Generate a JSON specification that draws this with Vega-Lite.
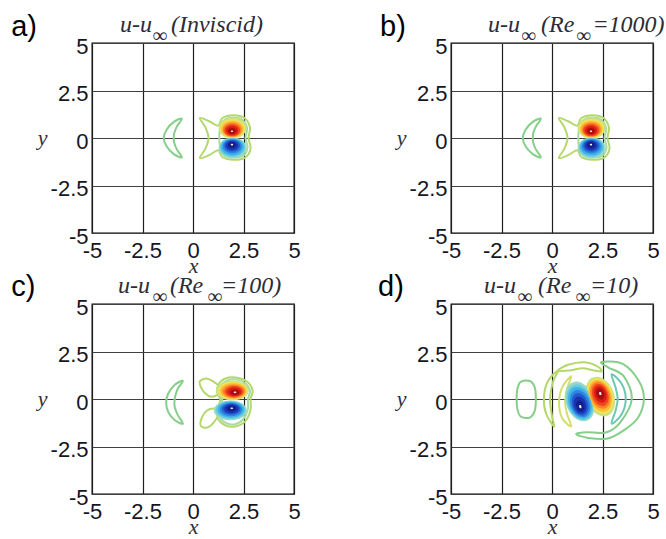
{
"$schema":"https://vega.github.io/schema/vega-lite/v6.json",
"padding":{"left":10,"top":12,"right":5,"bottom":5},
"bounds":"flush",
"columns":2,
"spacing":{"row":71,"column":157},
"resolve":{"scale":{"size":"independent"}},
"datasets":{
"rings":[
{"p":"a","r":"a1","k":0,"c":"g","x":-0.55,"y":1.02},{"p":"a","r":"a1","k":1,"c":"g","x":-0.95,"y":0.85},{"p":"a","r":"a1","k":2,"c":"g","x":-1.3,"y":0.45},{"p":"a","r":"a1","k":3,"c":"g","x":-1.45,"y":0},{"p":"a","r":"a1","k":4,"c":"g","x":-1.3,"y":-0.45},{"p":"a","r":"a1","k":5,"c":"g","x":-0.95,"y":-0.85},{"p":"a","r":"a1","k":6,"c":"g","x":-0.55,"y":-1.02},{"p":"a","r":"a1","k":7,"c":"g","x":-0.8,"y":-0.6},{"p":"a","r":"a1","k":8,"c":"g","x":-0.93,"y":-0.25},{"p":"a","r":"a1","k":9,"c":"g","x":-0.95,"y":0},{"p":"a","r":"a1","k":10,"c":"g","x":-0.93,"y":0.25},{"p":"a","r":"a1","k":11,"c":"g","x":-0.8,"y":0.6},
{"p":"a","r":"a2","k":0,"c":"yg","x":0.34,"y":1.05},{"p":"a","r":"a2","k":1,"c":"yg","x":0.8,"y":0.88},{"p":"a","r":"a2","k":2,"c":"yg","x":1.25,"y":0.65},{"p":"a","r":"a2","k":3,"c":"yg","x":1.45,"y":1.05},{"p":"a","r":"a2","k":4,"c":"yg","x":2.0,"y":1.2},{"p":"a","r":"a2","k":5,"c":"yg","x":2.55,"y":1.05},{"p":"a","r":"a2","k":6,"c":"yg","x":2.82,"y":0.55},{"p":"a","r":"a2","k":7,"c":"yg","x":2.75,"y":0},{"p":"a","r":"a2","k":8,"c":"yg","x":2.85,"y":-0.55},{"p":"a","r":"a2","k":9,"c":"yg","x":2.6,"y":-1.02},{"p":"a","r":"a2","k":10,"c":"yg","x":2.0,"y":-1.15},{"p":"a","r":"a2","k":11,"c":"yg","x":1.45,"y":-1.0},{"p":"a","r":"a2","k":12,"c":"yg","x":1.25,"y":-0.65},{"p":"a","r":"a2","k":13,"c":"yg","x":0.8,"y":-0.9},{"p":"a","r":"a2","k":14,"c":"yg","x":0.34,"y":-1.05},{"p":"a","r":"a2","k":15,"c":"yg","x":0.62,"y":-0.55},{"p":"a","r":"a2","k":16,"c":"yg","x":0.77,"y":0},{"p":"a","r":"a2","k":17,"c":"yg","x":0.62,"y":0.55},
{"p":"a","r":"a3","k":0,"c":"lg","x":1.35,"y":0.55},{"p":"a","r":"a3","k":1,"c":"lg","x":1.55,"y":0.95},{"p":"a","r":"a3","k":2,"c":"lg","x":2.0,"y":1.08},{"p":"a","r":"a3","k":3,"c":"lg","x":2.45,"y":0.95},{"p":"a","r":"a3","k":4,"c":"lg","x":2.68,"y":0.5},{"p":"a","r":"a3","k":5,"c":"lg","x":2.6,"y":0},{"p":"a","r":"a3","k":6,"c":"lg","x":2.7,"y":-0.5},{"p":"a","r":"a3","k":7,"c":"lg","x":2.5,"y":-0.92},{"p":"a","r":"a3","k":8,"c":"lg","x":2.0,"y":-1.03},{"p":"a","r":"a3","k":9,"c":"lg","x":1.55,"y":-0.9},{"p":"a","r":"a3","k":10,"c":"lg","x":1.35,"y":-0.5},{"p":"a","r":"a3","k":11,"c":"lg","x":1.3,"y":0},
{"p":"b","r":"b1","k":0,"c":"g","x":-0.55,"y":1.02},{"p":"b","r":"b1","k":1,"c":"g","x":-0.95,"y":0.85},{"p":"b","r":"b1","k":2,"c":"g","x":-1.3,"y":0.45},{"p":"b","r":"b1","k":3,"c":"g","x":-1.45,"y":0},{"p":"b","r":"b1","k":4,"c":"g","x":-1.3,"y":-0.45},{"p":"b","r":"b1","k":5,"c":"g","x":-0.95,"y":-0.85},{"p":"b","r":"b1","k":6,"c":"g","x":-0.55,"y":-1.02},{"p":"b","r":"b1","k":7,"c":"g","x":-0.8,"y":-0.6},{"p":"b","r":"b1","k":8,"c":"g","x":-0.93,"y":-0.25},{"p":"b","r":"b1","k":9,"c":"g","x":-0.95,"y":0},{"p":"b","r":"b1","k":10,"c":"g","x":-0.93,"y":0.25},{"p":"b","r":"b1","k":11,"c":"g","x":-0.8,"y":0.6},
{"p":"b","r":"b2","k":0,"c":"yg","x":0.34,"y":1.05},{"p":"b","r":"b2","k":1,"c":"yg","x":0.8,"y":0.88},{"p":"b","r":"b2","k":2,"c":"yg","x":1.25,"y":0.65},{"p":"b","r":"b2","k":3,"c":"yg","x":1.45,"y":1.05},{"p":"b","r":"b2","k":4,"c":"yg","x":2.0,"y":1.2},{"p":"b","r":"b2","k":5,"c":"yg","x":2.55,"y":1.05},{"p":"b","r":"b2","k":6,"c":"yg","x":2.82,"y":0.55},{"p":"b","r":"b2","k":7,"c":"yg","x":2.75,"y":0},{"p":"b","r":"b2","k":8,"c":"yg","x":2.85,"y":-0.55},{"p":"b","r":"b2","k":9,"c":"yg","x":2.6,"y":-1.02},{"p":"b","r":"b2","k":10,"c":"yg","x":2.0,"y":-1.15},{"p":"b","r":"b2","k":11,"c":"yg","x":1.45,"y":-1.0},{"p":"b","r":"b2","k":12,"c":"yg","x":1.25,"y":-0.65},{"p":"b","r":"b2","k":13,"c":"yg","x":0.8,"y":-0.9},{"p":"b","r":"b2","k":14,"c":"yg","x":0.34,"y":-1.05},{"p":"b","r":"b2","k":15,"c":"yg","x":0.62,"y":-0.55},{"p":"b","r":"b2","k":16,"c":"yg","x":0.77,"y":0},{"p":"b","r":"b2","k":17,"c":"yg","x":0.62,"y":0.55},
{"p":"b","r":"b3","k":0,"c":"lg","x":1.35,"y":0.55},{"p":"b","r":"b3","k":1,"c":"lg","x":1.55,"y":0.95},{"p":"b","r":"b3","k":2,"c":"lg","x":2.0,"y":1.08},{"p":"b","r":"b3","k":3,"c":"lg","x":2.45,"y":0.95},{"p":"b","r":"b3","k":4,"c":"lg","x":2.68,"y":0.5},{"p":"b","r":"b3","k":5,"c":"lg","x":2.6,"y":0},{"p":"b","r":"b3","k":6,"c":"lg","x":2.7,"y":-0.5},{"p":"b","r":"b3","k":7,"c":"lg","x":2.5,"y":-0.92},{"p":"b","r":"b3","k":8,"c":"lg","x":2.0,"y":-1.03},{"p":"b","r":"b3","k":9,"c":"lg","x":1.55,"y":-0.9},{"p":"b","r":"b3","k":10,"c":"lg","x":1.35,"y":-0.5},{"p":"b","r":"b3","k":11,"c":"lg","x":1.3,"y":0},
{"p":"c","r":"c1","k":0,"c":"g","x":-0.5,"y":0.96},{"p":"c","r":"c1","k":1,"c":"g","x":-0.9,"y":0.75},{"p":"c","r":"c1","k":2,"c":"g","x":-1.22,"y":0.3},{"p":"c","r":"c1","k":3,"c":"g","x":-1.33,"y":-0.18},{"p":"c","r":"c1","k":4,"c":"g","x":-1.22,"y":-0.7},{"p":"c","r":"c1","k":5,"c":"g","x":-0.9,"y":-1.12},{"p":"c","r":"c1","k":6,"c":"g","x":-0.5,"y":-1.3},{"p":"c","r":"c1","k":7,"c":"g","x":-0.75,"y":-0.85},{"p":"c","r":"c1","k":8,"c":"g","x":-0.9,"y":-0.45},{"p":"c","r":"c1","k":9,"c":"g","x":-0.92,"y":-0.18},{"p":"c","r":"c1","k":10,"c":"g","x":-0.88,"y":0.15},{"p":"c","r":"c1","k":11,"c":"g","x":-0.75,"y":0.55},
{"p":"c","r":"c2","k":0,"c":"yg","x":0.35,"y":0.95},{"p":"c","r":"c2","k":1,"c":"yg","x":0.7,"y":1.07},{"p":"c","r":"c2","k":2,"c":"yg","x":1.1,"y":0.85},{"p":"c","r":"c2","k":3,"c":"yg","x":1.45,"y":0.5},{"p":"c","r":"c2","k":4,"c":"yg","x":1.2,"y":0.22},{"p":"c","r":"c2","k":5,"c":"yg","x":0.9,"y":0.12},{"p":"c","r":"c2","k":6,"c":"yg","x":0.6,"y":0.3},{"p":"c","r":"c2","k":7,"c":"yg","x":0.38,"y":0.65},
{"p":"c","r":"c3","k":0,"c":"yg","x":0.38,"y":-1.4},{"p":"c","r":"c3","k":1,"c":"yg","x":0.7,"y":-1.5},{"p":"c","r":"c3","k":2,"c":"yg","x":1.05,"y":-1.2},{"p":"c","r":"c3","k":3,"c":"yg","x":1.35,"y":-0.65},{"p":"c","r":"c3","k":4,"c":"yg","x":1.05,"y":-0.5},{"p":"c","r":"c3","k":5,"c":"yg","x":0.7,"y":-0.6},{"p":"c","r":"c3","k":6,"c":"yg","x":0.45,"y":-0.95},
{"p":"c","r":"c4","k":0,"c":"yg","x":1.25,"y":0.75},{"p":"c","r":"c4","k":1,"c":"yg","x":1.6,"y":1.08},{"p":"c","r":"c4","k":2,"c":"yg","x":2.2,"y":1.12},{"p":"c","r":"c4","k":3,"c":"yg","x":2.7,"y":0.9},{"p":"c","r":"c4","k":4,"c":"yg","x":2.95,"y":0.45},{"p":"c","r":"c4","k":5,"c":"yg","x":2.85,"y":0.0},{"p":"c","r":"c4","k":6,"c":"yg","x":2.85,"y":-0.55},{"p":"c","r":"c4","k":7,"c":"yg","x":2.6,"y":-1.15},{"p":"c","r":"c4","k":8,"c":"yg","x":2.1,"y":-1.45},{"p":"c","r":"c4","k":9,"c":"yg","x":1.6,"y":-1.38},{"p":"c","r":"c4","k":10,"c":"yg","x":1.25,"y":-1.05},{"p":"c","r":"c4","k":11,"c":"yg","x":1.2,"y":-0.55},{"p":"c","r":"c4","k":12,"c":"yg","x":1.35,"y":-0.05},{"p":"c","r":"c4","k":13,"c":"yg","x":1.2,"y":0.35},
{"p":"c","r":"c5","k":0,"c":"lg","x":1.38,"y":0.7},{"p":"c","r":"c5","k":1,"c":"lg","x":1.7,"y":0.98},{"p":"c","r":"c5","k":2,"c":"lg","x":2.2,"y":1.02},{"p":"c","r":"c5","k":3,"c":"lg","x":2.6,"y":0.82},{"p":"c","r":"c5","k":4,"c":"lg","x":2.82,"y":0.42},{"p":"c","r":"c5","k":5,"c":"lg","x":2.72,"y":0.0},{"p":"c","r":"c5","k":6,"c":"lg","x":2.72,"y":-0.52},{"p":"c","r":"c5","k":7,"c":"lg","x":2.5,"y":-1.05},{"p":"c","r":"c5","k":8,"c":"lg","x":2.1,"y":-1.33},{"p":"c","r":"c5","k":9,"c":"lg","x":1.65,"y":-1.27},{"p":"c","r":"c5","k":10,"c":"lg","x":1.35,"y":-0.98},{"p":"c","r":"c5","k":11,"c":"lg","x":1.32,"y":-0.5},{"p":"c","r":"c5","k":12,"c":"lg","x":1.45,"y":-0.05},{"p":"c","r":"c5","k":13,"c":"lg","x":1.32,"y":0.35},
{"p":"d","r":"d1","k":0,"c":"g","x":-1.55,"y":0.9},{"p":"d","r":"d1","k":1,"c":"g","x":-1.1,"y":0.95},{"p":"d","r":"d1","k":2,"c":"g","x":-0.85,"y":0.6},{"p":"d","r":"d1","k":3,"c":"g","x":-0.8,"y":0},{"p":"d","r":"d1","k":4,"c":"g","x":-0.85,"y":-0.6},{"p":"d","r":"d1","k":5,"c":"g","x":-1.1,"y":-0.98},{"p":"d","r":"d1","k":6,"c":"g","x":-1.55,"y":-0.92},{"p":"d","r":"d1","k":7,"c":"g","x":-1.72,"y":-0.5},{"p":"d","r":"d1","k":8,"c":"g","x":-1.75,"y":0},{"p":"d","r":"d1","k":9,"c":"g","x":-1.72,"y":0.5},
{"p":"d","r":"d2","k":0,"c":"yg","x":0.3,"y":1.5},{"p":"d","r":"d2","k":1,"c":"yg","x":-0.2,"y":0.95},{"p":"d","r":"d2","k":2,"c":"yg","x":-0.4,"y":0.1},{"p":"d","r":"d2","k":3,"c":"yg","x":-0.3,"y":-0.75},{"p":"d","r":"d2","k":4,"c":"yg","x":0.1,"y":-1.45},{"p":"d","r":"d2","k":5,"c":"yg","x":0.0,"y":-0.9},{"p":"d","r":"d2","k":6,"c":"yg","x":-0.1,"y":0},{"p":"d","r":"d2","k":7,"c":"yg","x":0.05,"y":0.9},
{"p":"d","r":"d3","k":0,"c":"yg","x":0.3,"y":1.5},{"p":"d","r":"d3","k":1,"c":"yg","x":0.8,"y":1.8},{"p":"d","r":"d3","k":2,"c":"yg","x":1.6,"y":1.93},{"p":"d","r":"d3","k":3,"c":"yg","x":2.25,"y":1.72},{"p":"d","r":"d3","k":4,"c":"yg","x":2.45,"y":1.45},{"p":"d","r":"d3","k":5,"c":"yg","x":2.1,"y":1.5},{"p":"d","r":"d3","k":6,"c":"yg","x":1.5,"y":1.62},{"p":"d","r":"d3","k":7,"c":"yg","x":0.85,"y":1.5},
{"p":"d","r":"d4","k":0,"c":"g","x":2.45,"y":1.95},{"p":"d","r":"d4","k":1,"c":"g","x":3.5,"y":1.85},{"p":"d","r":"d4","k":2,"c":"g","x":4.3,"y":0.95},{"p":"d","r":"d4","k":3,"c":"g","x":4.55,"y":0},{"p":"d","r":"d4","k":4,"c":"g","x":4.25,"y":-1.0},{"p":"d","r":"d4","k":5,"c":"g","x":3.55,"y":-1.65},{"p":"d","r":"d4","k":6,"c":"g","x":2.75,"y":-2.08},{"p":"d","r":"d4","k":7,"c":"g","x":1.8,"y":-2.05},{"p":"d","r":"d4","k":8,"c":"g","x":1.2,"y":-1.85},{"p":"d","r":"d4","k":9,"c":"g","x":1.7,"y":-1.75},{"p":"d","r":"d4","k":10,"c":"g","x":2.7,"y":-1.75},{"p":"d","r":"d4","k":11,"c":"g","x":3.4,"y":-1.2},{"p":"d","r":"d4","k":12,"c":"g","x":3.95,"y":0},{"p":"d","r":"d4","k":13,"c":"g","x":3.55,"y":1.2},{"p":"d","r":"d4","k":14,"c":"g","x":2.8,"y":1.65},
{"p":"d","r":"d5","k":0,"c":"tl","x":2.95,"y":1.3},{"p":"d","r":"d5","k":1,"c":"tl","x":3.45,"y":0.8},{"p":"d","r":"d5","k":2,"c":"tl","x":3.65,"y":0},{"p":"d","r":"d5","k":3,"c":"tl","x":3.45,"y":-0.8},{"p":"d","r":"d5","k":4,"c":"tl","x":2.95,"y":-1.3},{"p":"d","r":"d5","k":5,"c":"tl","x":3.15,"y":-0.6},{"p":"d","r":"d5","k":6,"c":"tl","x":3.25,"y":0},{"p":"d","r":"d5","k":7,"c":"tl","x":3.15,"y":0.6},
{"p":"d","r":"d6","k":0,"c":"y2","x":0.95,"y":1.2},{"p":"d","r":"d6","k":1,"c":"y2","x":0.5,"y":0.6},{"p":"d","r":"d6","k":2,"c":"y2","x":0.35,"y":-0.2},{"p":"d","r":"d6","k":3,"c":"y2","x":0.5,"y":-1.0},{"p":"d","r":"d6","k":4,"c":"y2","x":0.95,"y":-1.45},{"p":"d","r":"d6","k":5,"c":"y2","x":0.75,"y":-0.8},{"p":"d","r":"d6","k":6,"c":"y2","x":0.65,"y":-0.2},{"p":"d","r":"d6","k":7,"c":"y2","x":0.75,"y":0.55}
],
"lobes":[
{"p":"a","c":"r1","lv":1,"x":1.96,"y":0.52},{"p":"a","c":"r2","lv":2,"x":1.955,"y":0.5},{"p":"a","c":"r3","lv":3,"x":1.95,"y":0.47},{"p":"a","c":"r4","lv":4,"x":1.945,"y":0.44},{"p":"a","c":"r5","lv":5,"x":1.94,"y":0.41},{"p":"a","c":"r6","lv":6,"x":1.935,"y":0.39},{"p":"a","c":"r7","lv":7,"x":1.93,"y":0.37},{"p":"a","c":"r8","lv":8,"x":1.93,"y":0.35},
{"p":"a","c":"b1","lv":1,"x":1.96,"y":-0.52},{"p":"a","c":"b2","lv":2,"x":1.955,"y":-0.5},{"p":"a","c":"b3","lv":3,"x":1.95,"y":-0.47},{"p":"a","c":"b4","lv":4,"x":1.945,"y":-0.44},{"p":"a","c":"b5","lv":5,"x":1.94,"y":-0.41},{"p":"a","c":"b6","lv":6,"x":1.935,"y":-0.39},{"p":"a","c":"b7","lv":7,"x":1.93,"y":-0.37},{"p":"a","c":"b8","lv":8,"x":1.93,"y":-0.35},
{"p":"b","c":"r1","lv":1,"x":1.96,"y":0.52},{"p":"b","c":"r2","lv":2,"x":1.955,"y":0.5},{"p":"b","c":"r3","lv":3,"x":1.95,"y":0.47},{"p":"b","c":"r4","lv":4,"x":1.945,"y":0.44},{"p":"b","c":"r5","lv":5,"x":1.94,"y":0.41},{"p":"b","c":"r6","lv":6,"x":1.935,"y":0.39},{"p":"b","c":"r7","lv":7,"x":1.93,"y":0.37},{"p":"b","c":"r8","lv":8,"x":1.93,"y":0.35},
{"p":"b","c":"b1","lv":1,"x":1.96,"y":-0.52},{"p":"b","c":"b2","lv":2,"x":1.955,"y":-0.5},{"p":"b","c":"b3","lv":3,"x":1.95,"y":-0.47},{"p":"b","c":"b4","lv":4,"x":1.945,"y":-0.44},{"p":"b","c":"b5","lv":5,"x":1.94,"y":-0.41},{"p":"b","c":"b6","lv":6,"x":1.935,"y":-0.39},{"p":"b","c":"b7","lv":7,"x":1.93,"y":-0.37},{"p":"b","c":"b8","lv":8,"x":1.93,"y":-0.35},
{"p":"c","c":"r1","lv":1,"x":1.95,"y":0.45},{"p":"c","c":"r2","lv":2,"x":1.97,"y":0.44},{"p":"c","c":"r3","lv":3,"x":1.99,"y":0.42},{"p":"c","c":"r4","lv":4,"x":2.01,"y":0.41},{"p":"c","c":"r5","lv":5,"x":2.03,"y":0.39},{"p":"c","c":"r6","lv":6,"x":2.05,"y":0.38},{"p":"c","c":"r7","lv":7,"x":2.07,"y":0.36},{"p":"c","c":"r8","lv":8,"x":2.08,"y":0.35},
{"p":"c","c":"b1","lv":1,"x":1.85,"y":-0.6},{"p":"c","c":"b2","lv":2,"x":1.86,"y":-0.58},{"p":"c","c":"b3","lv":3,"x":1.87,"y":-0.56},{"p":"c","c":"b4","lv":4,"x":1.88,"y":-0.55},{"p":"c","c":"b5","lv":5,"x":1.89,"y":-0.53},{"p":"c","c":"b6","lv":6,"x":1.9,"y":-0.52},{"p":"c","c":"b7","lv":7,"x":1.91,"y":-0.5},{"p":"c","c":"b8","lv":8,"x":1.92,"y":-0.49},
{"p":"d","c":"r1","lv":1,"x":2.39,"y":0.13},{"p":"d","c":"r2","lv":2,"x":2.39,"y":0.15},{"p":"d","c":"r3","lv":3,"x":2.39,"y":0.17},{"p":"d","c":"r4","lv":4,"x":2.39,"y":0.2},{"p":"d","c":"r5","lv":5,"x":2.39,"y":0.22},{"p":"d","c":"r6","lv":6,"x":2.39,"y":0.25},{"p":"d","c":"r7","lv":7,"x":2.39,"y":0.27},{"p":"d","c":"r8","lv":8,"x":2.39,"y":0.29},
{"p":"d","c":"b1","lv":1,"x":1.38,"y":-0.13},{"p":"d","c":"b2","lv":2,"x":1.38,"y":-0.17},{"p":"d","c":"b3","lv":3,"x":1.38,"y":-0.2},{"p":"d","c":"b4","lv":4,"x":1.39,"y":-0.24},{"p":"d","c":"b5","lv":5,"x":1.39,"y":-0.28},{"p":"d","c":"b6","lv":6,"x":1.39,"y":-0.32},{"p":"d","c":"b7","lv":7,"x":1.4,"y":-0.36},{"p":"d","c":"b8","lv":8,"x":1.4,"y":-0.4}
]
},
"concat":[
{"width":202,"height":190,"layer":[
{"data":{"name":"rings"},"transform":[{"filter":"datum.p=='a'"}],"mark":{"type":"line","interpolate":"cardinal-closed","strokeWidth":2},"encoding":{"x":{"field":"x","type":"quantitative","scale":{"domain":[-5,5],"nice":false,"zero":false},"axis":{"values":[-5,-2.5,0,2.5,5]},"title":"x"},"y":{"field":"y","type":"quantitative","scale":{"domain":[-5,5],"nice":false,"zero":false},"axis":{"values":[-5,-2.5,0,2.5,5]},"title":"y"},"detail":{"field":"r"},"order":{"field":"k"},"color":{"field":"c","type":"nominal","legend":null,"scale":{"domain":["g","yg","lg","tl","y2","r1","r2","r3","r4","r5","r6","r7","r8","b1","b2","b3","b4","b5","b6","b7","b8"],"range":["#86cf8a","#b4d86c","#a6dca4","#6cc9b0","#d2de6e","#c6e284","#f2e25a","#fdbb36","#fa8426","#f2451c","#d91c18","#a80c0e","#ffffff","#9cd9c4","#66cde0","#3fb0e8","#2c86e0","#2358cf","#1b32b0","#11208a","#ffffff"]}}}},
{"data":{"name":"lobes"},"transform":[{"filter":"datum.p=='a'"}],"mark":{"type":"point","filled":true,"opacity":1,"strokeWidth":0,"shape":"M-1,0A1,0.75,0,1,1,1,0A1,0.75,0,1,1,-1,0Z"},"encoding":{"x":{"field":"x","type":"quantitative","scale":{"domain":[-5,5],"nice":false,"zero":false},"title":"x"},"y":{"field":"y","type":"quantitative","scale":{"domain":[-5,5],"nice":false,"zero":false},"title":"y"},"order":{"field":"lv"},"size":{"field":"lv","type":"quantitative","legend":null,"scale":{"type":"threshold","domain":[1.5,2.5,3.5,4.5,5.5,6.5,7.5],"range":[784,635,502,361,246,144,61,5]}},"color":{"field":"c","type":"nominal","legend":null,"scale":{"domain":["g","yg","lg","tl","y2","r1","r2","r3","r4","r5","r6","r7","r8","b1","b2","b3","b4","b5","b6","b7","b8"],"range":["#86cf8a","#b4d86c","#a6dca4","#6cc9b0","#d2de6e","#c6e284","#f2e25a","#fdbb36","#fa8426","#f2451c","#d91c18","#a80c0e","#ffffff","#9cd9c4","#66cde0","#3fb0e8","#2c86e0","#2358cf","#1b32b0","#11208a","#ffffff"]}}}},
{"data":{"values":[{}]},"mark":{"type":"text","text":"a)","font":"Liberation Sans","fontSize":29,"align":"left","baseline":"alphabetic","color":"#000"},"encoding":{"x":{"datum":-9.0,"type":"quantitative","scale":{"domain":[-5,5],"nice":false,"zero":false},"title":"x"},"y":{"datum":5.37,"type":"quantitative","scale":{"domain":[-5,5],"nice":false,"zero":false},"title":"y"}}},
{"data":{"values":[{}]},"mark":{"type":"text","text":"u-u","font":"Liberation Serif","fontStyle":"italic","fontSize":24,"align":"left","baseline":"alphabetic","color":"#2c2c38"},"encoding":{"x":{"datum":-3.61,"type":"quantitative","scale":{"domain":[-5,5],"nice":false,"zero":false},"title":"x"},"y":{"datum":5.58,"type":"quantitative","scale":{"domain":[-5,5],"nice":false,"zero":false},"title":"y"}}},
{"data":{"values":[{}]},"mark":{"type":"text","text":"∞","font":"Liberation Serif","fontStyle":"italic","fontSize":20,"align":"left","baseline":"alphabetic","color":"#2c2c38"},"encoding":{"x":{"datum":-1.98,"type":"quantitative","scale":{"domain":[-5,5],"nice":false,"zero":false},"title":"x"},"y":{"datum":5.05,"type":"quantitative","scale":{"domain":[-5,5],"nice":false,"zero":false},"title":"y"}}},
{"data":{"values":[{}]},"mark":{"type":"text","text":"(Inviscid)","font":"Liberation Serif","fontStyle":"italic","fontSize":24,"align":"left","baseline":"alphabetic","color":"#2c2c38"},"encoding":{"x":{"datum":-1.09,"type":"quantitative","scale":{"domain":[-5,5],"nice":false,"zero":false},"title":"x"},"y":{"datum":5.58,"type":"quantitative","scale":{"domain":[-5,5],"nice":false,"zero":false},"title":"y"}}}
]},
{"width":202,"height":190,"layer":[
{"data":{"name":"rings"},"transform":[{"filter":"datum.p=='b'"}],"mark":{"type":"line","interpolate":"cardinal-closed","strokeWidth":2},"encoding":{"x":{"field":"x","type":"quantitative","scale":{"domain":[-5,5],"nice":false,"zero":false},"axis":{"values":[-5,-2.5,0,2.5,5]},"title":"x"},"y":{"field":"y","type":"quantitative","scale":{"domain":[-5,5],"nice":false,"zero":false},"axis":{"values":[-5,-2.5,0,2.5,5]},"title":"y"},"detail":{"field":"r"},"order":{"field":"k"},"color":{"field":"c","type":"nominal","legend":null,"scale":{"domain":["g","yg","lg","tl","y2","r1","r2","r3","r4","r5","r6","r7","r8","b1","b2","b3","b4","b5","b6","b7","b8"],"range":["#86cf8a","#b4d86c","#a6dca4","#6cc9b0","#d2de6e","#c6e284","#f2e25a","#fdbb36","#fa8426","#f2451c","#d91c18","#a80c0e","#ffffff","#9cd9c4","#66cde0","#3fb0e8","#2c86e0","#2358cf","#1b32b0","#11208a","#ffffff"]}}}},
{"data":{"name":"lobes"},"transform":[{"filter":"datum.p=='b'"}],"mark":{"type":"point","filled":true,"opacity":1,"strokeWidth":0,"shape":"M-1,0A1,0.75,0,1,1,1,0A1,0.75,0,1,1,-1,0Z"},"encoding":{"x":{"field":"x","type":"quantitative","scale":{"domain":[-5,5],"nice":false,"zero":false},"title":"x"},"y":{"field":"y","type":"quantitative","scale":{"domain":[-5,5],"nice":false,"zero":false},"title":"y"},"order":{"field":"lv"},"size":{"field":"lv","type":"quantitative","legend":null,"scale":{"type":"threshold","domain":[1.5,2.5,3.5,4.5,5.5,6.5,7.5],"range":[784,635,502,361,246,144,61,5]}},"color":{"field":"c","type":"nominal","legend":null,"scale":{"domain":["g","yg","lg","tl","y2","r1","r2","r3","r4","r5","r6","r7","r8","b1","b2","b3","b4","b5","b6","b7","b8"],"range":["#86cf8a","#b4d86c","#a6dca4","#6cc9b0","#d2de6e","#c6e284","#f2e25a","#fdbb36","#fa8426","#f2451c","#d91c18","#a80c0e","#ffffff","#9cd9c4","#66cde0","#3fb0e8","#2c86e0","#2358cf","#1b32b0","#11208a","#ffffff"]}}}},
{"data":{"values":[{}]},"mark":{"type":"text","text":"b)","font":"Liberation Sans","fontSize":29,"align":"left","baseline":"alphabetic","color":"#000"},"encoding":{"x":{"datum":-8.51,"type":"quantitative","scale":{"domain":[-5,5],"nice":false,"zero":false},"title":"x"},"y":{"datum":5.37,"type":"quantitative","scale":{"domain":[-5,5],"nice":false,"zero":false},"title":"y"}}},
{"data":{"values":[{}]},"mark":{"type":"text","text":"u-u","font":"Liberation Serif","fontStyle":"italic","fontSize":24,"align":"left","baseline":"alphabetic","color":"#2c2c38"},"encoding":{"x":{"datum":-3.17,"type":"quantitative","scale":{"domain":[-5,5],"nice":false,"zero":false},"title":"x"},"y":{"datum":5.58,"type":"quantitative","scale":{"domain":[-5,5],"nice":false,"zero":false},"title":"y"}}},
{"data":{"values":[{}]},"mark":{"type":"text","text":"∞","font":"Liberation Serif","fontStyle":"italic","fontSize":20,"align":"left","baseline":"alphabetic","color":"#2c2c38"},"encoding":{"x":{"datum":-1.5,"type":"quantitative","scale":{"domain":[-5,5],"nice":false,"zero":false},"title":"x"},"y":{"datum":5.05,"type":"quantitative","scale":{"domain":[-5,5],"nice":false,"zero":false},"title":"y"}}},
{"data":{"values":[{}]},"mark":{"type":"text","text":"(Re","font":"Liberation Serif","fontStyle":"italic","fontSize":24,"align":"left","baseline":"alphabetic","color":"#2c2c38"},"encoding":{"x":{"datum":-0.54,"type":"quantitative","scale":{"domain":[-5,5],"nice":false,"zero":false},"title":"x"},"y":{"datum":5.58,"type":"quantitative","scale":{"domain":[-5,5],"nice":false,"zero":false},"title":"y"}}},
{"data":{"values":[{}]},"mark":{"type":"text","text":"∞","font":"Liberation Serif","fontStyle":"italic","fontSize":20,"align":"left","baseline":"alphabetic","color":"#2c2c38"},"encoding":{"x":{"datum":1.22,"type":"quantitative","scale":{"domain":[-5,5],"nice":false,"zero":false},"title":"x"},"y":{"datum":5.05,"type":"quantitative","scale":{"domain":[-5,5],"nice":false,"zero":false},"title":"y"}}},
{"data":{"values":[{}]},"mark":{"type":"text","text":"=1000)","font":"Liberation Serif","fontStyle":"italic","fontSize":24,"align":"left","baseline":"alphabetic","color":"#2c2c38"},"encoding":{"x":{"datum":2.0,"type":"quantitative","scale":{"domain":[-5,5],"nice":false,"zero":false},"title":"x"},"y":{"datum":5.58,"type":"quantitative","scale":{"domain":[-5,5],"nice":false,"zero":false},"title":"y"}}}
]},
{"width":202,"height":190,"layer":[
{"data":{"name":"rings"},"transform":[{"filter":"datum.p=='c'"}],"mark":{"type":"line","interpolate":"cardinal-closed","strokeWidth":2},"encoding":{"x":{"field":"x","type":"quantitative","scale":{"domain":[-5,5],"nice":false,"zero":false},"axis":{"values":[-5,-2.5,0,2.5,5]},"title":"x"},"y":{"field":"y","type":"quantitative","scale":{"domain":[-5,5],"nice":false,"zero":false},"axis":{"values":[-5,-2.5,0,2.5,5]},"title":"y"},"detail":{"field":"r"},"order":{"field":"k"},"color":{"field":"c","type":"nominal","legend":null,"scale":{"domain":["g","yg","lg","tl","y2","r1","r2","r3","r4","r5","r6","r7","r8","b1","b2","b3","b4","b5","b6","b7","b8"],"range":["#86cf8a","#b4d86c","#a6dca4","#6cc9b0","#d2de6e","#c6e284","#f2e25a","#fdbb36","#fa8426","#f2451c","#d91c18","#a80c0e","#ffffff","#9cd9c4","#66cde0","#3fb0e8","#2c86e0","#2358cf","#1b32b0","#11208a","#ffffff"]}}}},
{"data":{"name":"lobes"},"transform":[{"filter":"datum.p=='c'"}],"mark":{"type":"point","filled":true,"opacity":1,"strokeWidth":0,"shape":"M-1,0A1,0.6,0,1,1,1,0A1,0.6,0,1,1,-1,0Z"},"encoding":{"x":{"field":"x","type":"quantitative","scale":{"domain":[-5,5],"nice":false,"zero":false},"title":"x"},"y":{"field":"y","type":"quantitative","scale":{"domain":[-5,5],"nice":false,"zero":false},"title":"y"},"order":{"field":"lv"},"size":{"field":"lv","type":"quantitative","legend":null,"scale":{"type":"threshold","domain":[1.5,2.5,3.5,4.5,5.5,6.5,7.5],"range":[1089,882,697,502,342,202,85,7]}},"color":{"field":"c","type":"nominal","legend":null,"scale":{"domain":["g","yg","lg","tl","y2","r1","r2","r3","r4","r5","r6","r7","r8","b1","b2","b3","b4","b5","b6","b7","b8"],"range":["#86cf8a","#b4d86c","#a6dca4","#6cc9b0","#d2de6e","#c6e284","#f2e25a","#fdbb36","#fa8426","#f2451c","#d91c18","#a80c0e","#ffffff","#9cd9c4","#66cde0","#3fb0e8","#2c86e0","#2358cf","#1b32b0","#11208a","#ffffff"]}}}},
{"data":{"values":[{}]},"mark":{"type":"text","text":"c)","font":"Liberation Sans","fontSize":29,"align":"left","baseline":"alphabetic","color":"#000"},"encoding":{"x":{"datum":-9.0,"type":"quantitative","scale":{"domain":[-5,5],"nice":false,"zero":false},"title":"x"},"y":{"datum":5.42,"type":"quantitative","scale":{"domain":[-5,5],"nice":false,"zero":false},"title":"y"}}},
{"data":{"values":[{}]},"mark":{"type":"text","text":"u-u","font":"Liberation Serif","fontStyle":"italic","fontSize":24,"align":"left","baseline":"alphabetic","color":"#2c2c38"},"encoding":{"x":{"datum":-3.71,"type":"quantitative","scale":{"domain":[-5,5],"nice":false,"zero":false},"title":"x"},"y":{"datum":5.58,"type":"quantitative","scale":{"domain":[-5,5],"nice":false,"zero":false},"title":"y"}}},
{"data":{"values":[{}]},"mark":{"type":"text","text":"∞","font":"Liberation Serif","fontStyle":"italic","fontSize":20,"align":"left","baseline":"alphabetic","color":"#2c2c38"},"encoding":{"x":{"datum":-1.98,"type":"quantitative","scale":{"domain":[-5,5],"nice":false,"zero":false},"title":"x"},"y":{"datum":5.05,"type":"quantitative","scale":{"domain":[-5,5],"nice":false,"zero":false},"title":"y"}}},
{"data":{"values":[{}]},"mark":{"type":"text","text":"(Re","font":"Liberation Serif","fontStyle":"italic","fontSize":24,"align":"left","baseline":"alphabetic","color":"#2c2c38"},"encoding":{"x":{"datum":-1.14,"type":"quantitative","scale":{"domain":[-5,5],"nice":false,"zero":false},"title":"x"},"y":{"datum":5.58,"type":"quantitative","scale":{"domain":[-5,5],"nice":false,"zero":false},"title":"y"}}},
{"data":{"values":[{}]},"mark":{"type":"text","text":"∞","font":"Liberation Serif","fontStyle":"italic","fontSize":20,"align":"left","baseline":"alphabetic","color":"#2c2c38"},"encoding":{"x":{"datum":0.74,"type":"quantitative","scale":{"domain":[-5,5],"nice":false,"zero":false},"title":"x"},"y":{"datum":5.05,"type":"quantitative","scale":{"domain":[-5,5],"nice":false,"zero":false},"title":"y"}}},
{"data":{"values":[{}]},"mark":{"type":"text","text":"=100)","font":"Liberation Serif","fontStyle":"italic","fontSize":24,"align":"left","baseline":"alphabetic","color":"#2c2c38"},"encoding":{"x":{"datum":1.39,"type":"quantitative","scale":{"domain":[-5,5],"nice":false,"zero":false},"title":"x"},"y":{"datum":5.58,"type":"quantitative","scale":{"domain":[-5,5],"nice":false,"zero":false},"title":"y"}}}
]},
{"width":202,"height":190,"layer":[
{"data":{"name":"rings"},"transform":[{"filter":"datum.p=='d'"}],"mark":{"type":"line","interpolate":"cardinal-closed","strokeWidth":2},"encoding":{"x":{"field":"x","type":"quantitative","scale":{"domain":[-5,5],"nice":false,"zero":false},"axis":{"values":[-5,-2.5,0,2.5,5]},"title":"x"},"y":{"field":"y","type":"quantitative","scale":{"domain":[-5,5],"nice":false,"zero":false},"axis":{"values":[-5,-2.5,0,2.5,5]},"title":"y"},"detail":{"field":"r"},"order":{"field":"k"},"color":{"field":"c","type":"nominal","legend":null,"scale":{"domain":["g","yg","lg","tl","y2","r1","r2","r3","r4","r5","r6","r7","r8","b1","b2","b3","b4","b5","b6","b7","b8"],"range":["#86cf8a","#b4d86c","#a6dca4","#6cc9b0","#d2de6e","#c6e284","#f2e25a","#fdbb36","#fa8426","#f2451c","#d91c18","#a80c0e","#ffffff","#9cd9c4","#66cde0","#3fb0e8","#2c86e0","#2358cf","#1b32b0","#11208a","#ffffff"]}}}},
{"data":{"name":"lobes"},"transform":[{"filter":"datum.p=='d'"}],"mark":{"type":"point","filled":true,"opacity":1,"strokeWidth":0,"shape":"M-0.342,-0.94A1,0.68,70,1,1,0.342,0.94A1,0.68,70,1,1,-0.342,-0.94Z"},"encoding":{"x":{"field":"x","type":"quantitative","scale":{"domain":[-5,5],"nice":false,"zero":false},"title":"x"},"y":{"field":"y","type":"quantitative","scale":{"domain":[-5,5],"nice":false,"zero":false},"title":"y"},"order":{"field":"lv"},"size":{"field":"lv","type":"quantitative","legend":null,"scale":{"type":"threshold","domain":[1.5,2.5,3.5,4.5,5.5,6.5,7.5],"range":[1681,1362,1076,778,529,310,132,11]}},"color":{"field":"c","type":"nominal","legend":null,"scale":{"domain":["g","yg","lg","tl","y2","r1","r2","r3","r4","r5","r6","r7","r8","b1","b2","b3","b4","b5","b6","b7","b8"],"range":["#86cf8a","#b4d86c","#a6dca4","#6cc9b0","#d2de6e","#c6e284","#f2e25a","#fdbb36","#fa8426","#f2451c","#d91c18","#a80c0e","#ffffff","#9cd9c4","#66cde0","#3fb0e8","#2c86e0","#2358cf","#1b32b0","#11208a","#ffffff"]}}}},
{"data":{"values":[{}]},"mark":{"type":"text","text":"d)","font":"Liberation Sans","fontSize":29,"align":"left","baseline":"alphabetic","color":"#000"},"encoding":{"x":{"datum":-8.61,"type":"quantitative","scale":{"domain":[-5,5],"nice":false,"zero":false},"title":"x"},"y":{"datum":5.42,"type":"quantitative","scale":{"domain":[-5,5],"nice":false,"zero":false},"title":"y"}}},
{"data":{"values":[{}]},"mark":{"type":"text","text":"u-u","font":"Liberation Serif","fontStyle":"italic","fontSize":24,"align":"left","baseline":"alphabetic","color":"#2c2c38"},"encoding":{"x":{"datum":-3.37,"type":"quantitative","scale":{"domain":[-5,5],"nice":false,"zero":false},"title":"x"},"y":{"datum":5.58,"type":"quantitative","scale":{"domain":[-5,5],"nice":false,"zero":false},"title":"y"}}},
{"data":{"values":[{}]},"mark":{"type":"text","text":"∞","font":"Liberation Serif","fontStyle":"italic","fontSize":20,"align":"left","baseline":"alphabetic","color":"#2c2c38"},"encoding":{"x":{"datum":-1.68,"type":"quantitative","scale":{"domain":[-5,5],"nice":false,"zero":false},"title":"x"},"y":{"datum":5.05,"type":"quantitative","scale":{"domain":[-5,5],"nice":false,"zero":false},"title":"y"}}},
{"data":{"values":[{}]},"mark":{"type":"text","text":"(Re","font":"Liberation Serif","fontStyle":"italic","fontSize":24,"align":"left","baseline":"alphabetic","color":"#2c2c38"},"encoding":{"x":{"datum":-0.69,"type":"quantitative","scale":{"domain":[-5,5],"nice":false,"zero":false},"title":"x"},"y":{"datum":5.58,"type":"quantitative","scale":{"domain":[-5,5],"nice":false,"zero":false},"title":"y"}}},
{"data":{"values":[{}]},"mark":{"type":"text","text":"∞","font":"Liberation Serif","fontStyle":"italic","fontSize":20,"align":"left","baseline":"alphabetic","color":"#2c2c38"},"encoding":{"x":{"datum":1.19,"type":"quantitative","scale":{"domain":[-5,5],"nice":false,"zero":false},"title":"x"},"y":{"datum":5.05,"type":"quantitative","scale":{"domain":[-5,5],"nice":false,"zero":false},"title":"y"}}},
{"data":{"values":[{}]},"mark":{"type":"text","text":"=10)","font":"Liberation Serif","fontStyle":"italic","fontSize":24,"align":"left","baseline":"alphabetic","color":"#2c2c38"},"encoding":{"x":{"datum":1.88,"type":"quantitative","scale":{"domain":[-5,5],"nice":false,"zero":false},"title":"x"},"y":{"datum":5.58,"type":"quantitative","scale":{"domain":[-5,5],"nice":false,"zero":false},"title":"y"}}}
]}
],
"config":{
"view":{"stroke":"#000","strokeWidth":1.3},
"axis":{"grid":true,"domain":false,"ticks":false,"labelExpr":"'' + datum.value","labelOverlap":false,"labelFont":"Liberation Sans","labelFontSize":22,"labelColor":"#15151f","titleFont":"Liberation Serif","titleFontStyle":"italic","titleFontWeight":"normal","titleFontSize":22,"titleColor":"#30303a"},
"axisX":{"gridColor":"#1e1e1e","gridOpacity":1,"gridWidth":1.2,"labelPadding":7,"labelFlush":false,"titleY":39,"titleBaseline":"alphabetic"},
"axisY":{"gridColor":"#404040","gridOpacity":1,"gridWidth":1.2,"labelPadding":4,"labelOffset":3,"labelBaseline":"middle","titleAngle":0,"titleX":-50,"titleY":101,"titleAlign":"center","titleBaseline":"alphabetic"}
}
}
